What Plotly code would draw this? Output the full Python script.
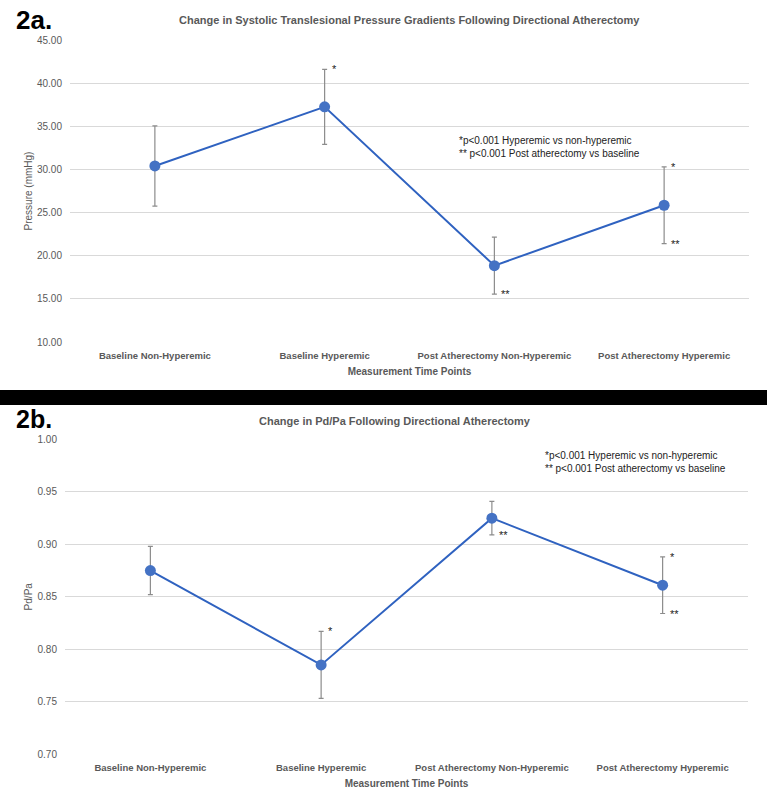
import plotly.graph_objects as go

categories = ["Baseline Non-Hyperemic", "Baseline Hyperemic",
              "Post Atherectomy Non-Hyperemic", "Post Atherectomy Hyperemic"]

gradient_mean = [30.4, 37.25, 18.85, 25.85]
gradient_err = [4.65, 4.35, 3.3, 4.45]
gradient_top_marks = ["", "*", "", "*"]
gradient_bottom_marks = ["", "", "**", "**"]

pdpa_mean = [0.875, 0.785, 0.925, 0.861]
pdpa_err = [0.023, 0.032, 0.016, 0.027]
pdpa_top_marks = ["", "*", "", "*"]
pdpa_bottom_marks = ["", "", "**", "**"]

W, H = 767, 800
FONT = "Liberation Sans Narrow, Liberation Sans, Arial"
GRAY = "#595959"
LINE = "#2f62c0"
MARK = "#4472c4"

fig = go.Figure()

def add_series(mean, err, xa, ya):
    fig.add_trace(go.Scatter(
        x=list(range(len(categories))), y=mean, mode="lines+markers",
        line=dict(color=LINE, width=2),
        marker=dict(color=MARK, size=11),
        error_y=dict(type="data", array=err, visible=True,
                     color="#8c8c8c", thickness=1.2, width=2.5),
        xaxis=xa, yaxis=ya, showlegend=False, hoverinfo="skip"))

add_series(gradient_mean, gradient_err, "x", "y")
add_series(pdpa_mean, pdpa_err, "x2", "y2")

ann = []
def star_marks(mean, err, tops, bottoms, xr, yr):
    for i, (m, e, t, b) in enumerate(zip(mean, err, tops, bottoms)):
        if t:
            ann.append(dict(x=i + 0.03, y=m + e, xref=xr, yref=yr, text=t,
                            showarrow=False, xanchor="left", yanchor="middle",
                            font=dict(family=FONT, size=11, color="#222")))
        if b:
            ann.append(dict(x=i + 0.03, y=m - e, xref=xr, yref=yr, text=b,
                            showarrow=False, xanchor="left", yanchor="middle",
                            font=dict(family=FONT, size=11, color="#222")))

star_marks(gradient_mean, gradient_err, gradient_top_marks, gradient_bottom_marks, "x", "y")
star_marks(pdpa_mean, pdpa_err, pdpa_top_marks, pdpa_bottom_marks, "x2", "y2")

def py(p):
    return 1 - p / H

def px(p):
    return p / W

ann += [
    dict(x=px(14), y=py(20), xref="paper", yref="paper", text="<b>2a.</b>",
         showarrow=False, xanchor="left", yanchor="middle",
         font=dict(family="Liberation Sans, Arial", size=26, color="black")),
    dict(x=px(410), y=py(20), xref="paper", yref="paper",
         text="<b>Change in Systolic Translesional Pressure Gradients Following Directional Atherectomy</b>",
         showarrow=False, xanchor="center", yanchor="middle",
         font=dict(family=FONT, size=11, color=GRAY)),
    dict(x=px(14), y=py(419), xref="paper", yref="paper", text="<b>2b.</b>",
         showarrow=False, xanchor="left", yanchor="middle",
         font=dict(family="Liberation Sans, Arial", size=25, color="black")),
    dict(x=px(395), y=py(421), xref="paper", yref="paper",
         text="<b>Change in Pd/Pa Following Directional Atherectomy</b>",
         showarrow=False, xanchor="center", yanchor="middle",
         font=dict(family=FONT, size=11, color=GRAY)),
    dict(x=px(457), y=py(147), xref="paper", yref="paper",
         text="*p<0.001 Hyperemic vs non-hyperemic<br>** p<0.001 Post atherectomy vs baseline",
         showarrow=False, xanchor="left", yanchor="middle", align="left",
         font=dict(family=FONT, size=10, color="#222")),
    dict(x=px(543), y=py(462), xref="paper", yref="paper",
         text="*p<0.001 Hyperemic vs non-hyperemic<br>** p<0.001 Post atherectomy vs baseline",
         showarrow=False, xanchor="left", yanchor="middle", align="left",
         font=dict(family=FONT, size=10, color="#222")),
]

shapes = [
    dict(type="rect", xref="paper", yref="paper", x0=0, x1=1,
         y0=py(405), y1=py(390), fillcolor="black", line=dict(width=0)),
]

tickfont = dict(family=FONT, size=10, color=GRAY)
xtickfont = dict(family=FONT, size=9.5, color=GRAY)
titlefont = dict(family=FONT, size=10, color=GRAY)

def xaxis_cfg(domain, anchor):
    return dict(domain=domain, range=[-0.5, 3.5], anchor=anchor,
                tickmode="array", tickvals=list(range(4)),
                ticktext=["<b>%s</b>" % c for c in categories],
                showgrid=False, zeroline=False, showline=False, ticks="",
                tickfont=xtickfont, ticklabelstandoff=6,
                title=dict(text="<b>Measurement Time Points</b>", font=titlefont, standoff=8))

fig.update_layout(
    width=W, height=H, margin=dict(l=0, r=0, t=0, b=0, autoexpand=False),
    paper_bgcolor="white", plot_bgcolor="white",
    annotations=ann, shapes=shapes,
    xaxis=xaxis_cfg([px(70), px(749)], "y"),
    yaxis=dict(domain=[py(342), py(40)], range=[10, 45], anchor="x",
               tickmode="array", tickvals=[10, 15, 20, 25, 30, 35, 40, 45],
               ticktext=["10.00", "15.00", "20.00", "25.00", "30.00", "35.00", "40.00", "45.00"],
               showgrid=True, gridcolor="#d9d9d9", gridwidth=1, zeroline=False,
               tickfont=tickfont, ticks="", ticklabelstandoff=7,
               title=dict(text="Pressure (mmHg)", font=titlefont, standoff=2)),
    xaxis2=xaxis_cfg([px(65), px(748)], "y2"),
    yaxis2=dict(domain=[py(754), py(439.5)], range=[0.70, 1.00], anchor="x2",
                tickmode="array", tickvals=[0.70, 0.75, 0.80, 0.85, 0.90, 0.95, 1.00],
                ticktext=["0.70", "0.75", "0.80", "0.85", "0.90", "0.95", "1.00"],
                showgrid=True, gridcolor="#d9d9d9", gridwidth=1, zeroline=False,
                tickfont=tickfont, ticks="", ticklabelstandoff=7,
                title=dict(text="Pd/Pa", font=titlefont, standoff=3)),
)

fig.write_html("out.html", config={"displayModeBar": False},
               post_script="document.body.style.margin='0';")
